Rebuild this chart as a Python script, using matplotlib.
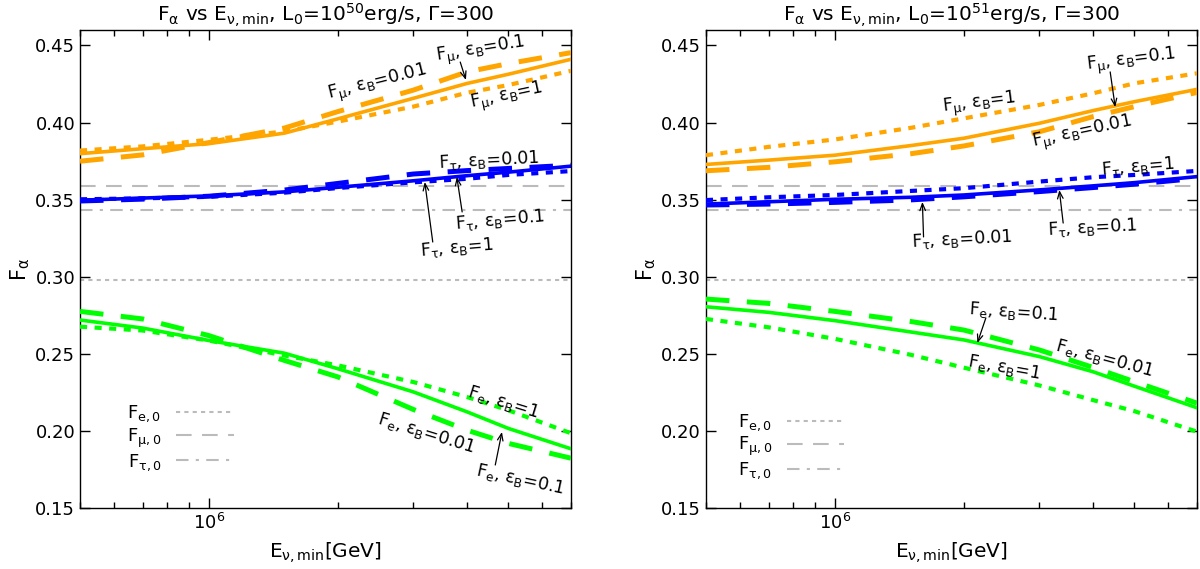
import matplotlib.pyplot as plt
from matplotlib.ticker import LogLocator, NullFormatter, FormatStrFormatter

plt.rcParams['font.family'] = ['DejaVu Sans']
plt.rcParams['mathtext.default'] = 'regular'

# E_nu,min grid [GeV]
E = [5e5, 7e5, 1e6, 1.5e6, 2e6, 3e6, 4e6, 5e6, 7e6]

# standard flavour ratios (grey reference lines)
Fe0 = 0.298
Fmu0 = 0.359
Ftau0 = 0.343

# L0 = 1e50 erg/s
mu_001_a = [0.3749, 0.3790, 0.3870, 0.3964, 0.4071, 0.4210, 0.4328, 0.4382, 0.4453]
mu_01_a = [0.3798, 0.3830, 0.3863, 0.3931, 0.4024, 0.4157, 0.4253, 0.4313, 0.4410]
mu_1_a = [0.3818, 0.3845, 0.3888, 0.3942, 0.4006, 0.4103, 0.4193, 0.4243, 0.4335]
tau_001_a = [0.3491, 0.3503, 0.3522, 0.3562, 0.3605, 0.3666, 0.3688, 0.3702, 0.3723]
tau_01_a = [0.3496, 0.3510, 0.3524, 0.3550, 0.3580, 0.3622, 0.3655, 0.3678, 0.3717]
tau_1_a = [0.3502, 0.3508, 0.3518, 0.3545, 0.3575, 0.3612, 0.3635, 0.3660, 0.3685]
e_001_a = [0.2775, 0.2726, 0.2618, 0.2457, 0.2350, 0.2139, 0.2005, 0.1919, 0.1823]
e_01_a = [0.2719, 0.2667, 0.2586, 0.2504, 0.2403, 0.2253, 0.2124, 0.2016, 0.1884]
e_1_a = [0.2676, 0.2651, 0.2586, 0.2489, 0.2425, 0.2317, 0.2220, 0.2134, 0.1985]

# L0 = 1e51 erg/s
mu_001_b = [0.3687, 0.3709, 0.3745, 0.3797, 0.3848, 0.3940, 0.4038, 0.4103, 0.4195]
mu_01_b = [0.3728, 0.3756, 0.3788, 0.3850, 0.3898, 0.3995, 0.4077, 0.4135, 0.4215]
mu_1_b = [0.3788, 0.3842, 0.3890, 0.3965, 0.4027, 0.4114, 0.4189, 0.4254, 0.4319]
tau_001_b = [0.3465, 0.3471, 0.3482, 0.3498, 0.3518, 0.3552, 0.3578, 0.3600, 0.3638]
tau_01_b = [0.3471, 0.3486, 0.3502, 0.3515, 0.3530, 0.3563, 0.3589, 0.3610, 0.3649]
tau_1_b = [0.3497, 0.3515, 0.3530, 0.3556, 0.3574, 0.3617, 0.3645, 0.3660, 0.3686]
e_001_b = [0.2855, 0.2827, 0.2775, 0.2710, 0.2654, 0.2525, 0.2412, 0.2319, 0.2180]
e_01_b = [0.2805, 0.2769, 0.2715, 0.2642, 0.2590, 0.2482, 0.2384, 0.2290, 0.2150]
e_1_b = [0.2726, 0.2672, 0.2597, 0.2494, 0.2410, 0.2295, 0.2200, 0.2128, 0.1995]

yticks = [0.15, 0.20, 0.25, 0.30, 0.35, 0.40, 0.45]

ORANGE = '#ffa500'
BLUE = '#0000ff'
GREEN = '#00ff00'
GREY = '#bbbbbb'

solid = dict(ls='-', lw=2.6)
dashed = dict(ls=(0, (4.7, 3.5)), lw=3.6)
dotted = dict(ls=(0, (1.7, 1.8)), lw=3.0)


def lab(f, eb):
    return r'$F_{%s}$, $\varepsilon_B$=%s' % (f, eb)


def panel(ax, series, expo, texts, arrows, leg_anchor):
    g1 = ax.axhline(Fe0, color=GREY, lw=1.5, ls=(0, (2, 2)), zorder=1)
    g2 = ax.axhline(Fmu0, color=GREY, lw=1.5, ls=(0, (7.5, 5)), zorder=1)
    g3 = ax.axhline(Ftau0, color=GREY, lw=1.5, ls=(0, (6, 3.5, 1.5, 3.5)), zorder=1)

    for vals, col, sty in series:
        ax.plot(E, vals, color=col, zorder=3, **sty)

    for s, x, y, rot in texts:
        ax.text(x, y, s, fontsize=12.5, rotation=rot, ha='center', va='center',
                rotation_mode='anchor', zorder=5)
    for x0, y0, x1, y1 in arrows:
        ax.annotate('', xy=(x1, y1), xytext=(x0, y0),
                    arrowprops=dict(arrowstyle='->,head_length=0.5,head_width=0.2',
                                    lw=0.9, color='black', shrinkA=0, shrinkB=0))

    ax.legend([g1, g2, g3], [r'$F_{e,0}$', r'$F_{\mu,0}$', r'$F_{\tau,0}$'],
              loc='center left', bbox_to_anchor=leg_anchor, frameon=False,
              markerfirst=False, fontsize=13, handlelength=3.2,
              handletextpad=0.8, labelspacing=0.12, borderpad=0, borderaxespad=0)

    ax.set_xscale('log')
    ax.set_xlim(5e5, 7e6)
    ax.set_ylim(0.15, 0.46)
    ax.set_yticks(yticks)
    ax.yaxis.set_major_formatter(FormatStrFormatter('%.2f'))
    ax.xaxis.set_major_locator(LogLocator(base=10))
    ax.xaxis.set_minor_locator(LogLocator(base=10, subs=range(2, 10)))
    ax.xaxis.set_minor_formatter(NullFormatter())
    ax.tick_params(which='both', direction='in', top=True, right=True, labelsize=13)
    ax.tick_params(which='major', length=7, width=1)
    ax.tick_params(which='minor', length=4, width=1)
    for sp in ax.spines.values():
        sp.set_linewidth(1.0)
    ax.set_xlabel(r'$E_{\nu,min}$[GeV]', fontsize=14.5, labelpad=5)
    ax.set_ylabel(r'$F_\alpha$', fontsize=15, labelpad=2)
    ax.set_title(r'$F_\alpha$ vs $E_{\nu,min}$, $L_0$=$10^{%d}$erg/s, $\Gamma$=300' % expo,
                 fontsize=14.5, pad=6)


fig = plt.figure(figsize=(12, 5.69), dpi=100)
ax1 = fig.add_axes([0.0667, 0.1072, 0.4091, 0.8401])
ax2 = fig.add_axes([0.5883, 0.1072, 0.4092, 0.8401])

panel(ax1,
      [(mu_001_a, ORANGE, dashed), (mu_01_a, ORANGE, solid), (mu_1_a, ORANGE, dotted),
       (tau_001_a, BLUE, dashed), (tau_01_a, BLUE, solid), (tau_1_a, BLUE, dotted),
       (e_001_a, GREEN, dashed), (e_01_a, GREEN, solid), (e_1_a, GREEN, dotted)],
      50,
      [(lab(r'\mu', '0.01'), 2.47e6, 0.4256, 14),
       (lab(r'\mu', '0.1'), 4.32e6, 0.4470, 9),
       (lab(r'\mu', '1'), 4.96e6, 0.4166, 12),
       (lab(r'\tau', '0.01'), 4.5e6, 0.3757, 3),
       (lab(r'\tau', '0.1'), 4.78e6, 0.3368, 5),
       (lab(r'\tau', '1'), 3.79e6, 0.3186, 5),
       (lab('e', '1'), 4.86e6, 0.2188, -17),
       (lab('e', '0.01'), 3.21e6, 0.1987, -17),
       (lab('e', '0.1'), 5.32e6, 0.1682, -12)],
      [(3.86e6, 0.4392, 3.98e6, 0.4276),
       (3.33e6, 0.3225, 3.19e6, 0.3614),
       (3.9e6, 0.3420, 3.79e6, 0.3647),
       (4.66e6, 0.1779, 4.83e6, 0.1993)],
      (0.096, 0.146))

panel(ax2,
      [(mu_001_b, ORANGE, dashed), (mu_01_b, ORANGE, solid), (mu_1_b, ORANGE, dotted),
       (tau_001_b, BLUE, dashed), (tau_01_b, BLUE, solid), (tau_1_b, BLUE, dotted),
       (e_001_b, GREEN, dashed), (e_01_b, GREEN, solid), (e_1_b, GREEN, dotted)],
      51,
      [(lab(r'\mu', '0.1'), 4.91e6, 0.4399, 7),
       (lab(r'\mu', '1'), 2.17e6, 0.4120, 7),
       (lab(r'\mu', '0.01'), 3.77e6, 0.3932, 12),
       (lab(r'\tau', '1'), 5.1e6, 0.3712, 5),
       (lab(r'\tau', '0.01'), 1.98e6, 0.3245, 3),
       (lab(r'\tau', '0.1'), 3.98e6, 0.3316, 3),
       (lab('e', '0.1'), 2.61e6, 0.2771, -4),
       (lab('e', '0.01'), 4.25e6, 0.2473, -15),
       (lab('e', '1'), 2.48e6, 0.2408, -10)],
      [(4.39e6, 0.4328, 4.51e6, 0.4100),
       (1.61e6, 0.3258, 1.60e6, 0.3485),
       (3.41e6, 0.3348, 3.34e6, 0.3562),
       (2.25e6, 0.2732, 2.15e6, 0.2570)],
      (0.065, 0.128))

fig.savefig('out.png', dpi=100)
